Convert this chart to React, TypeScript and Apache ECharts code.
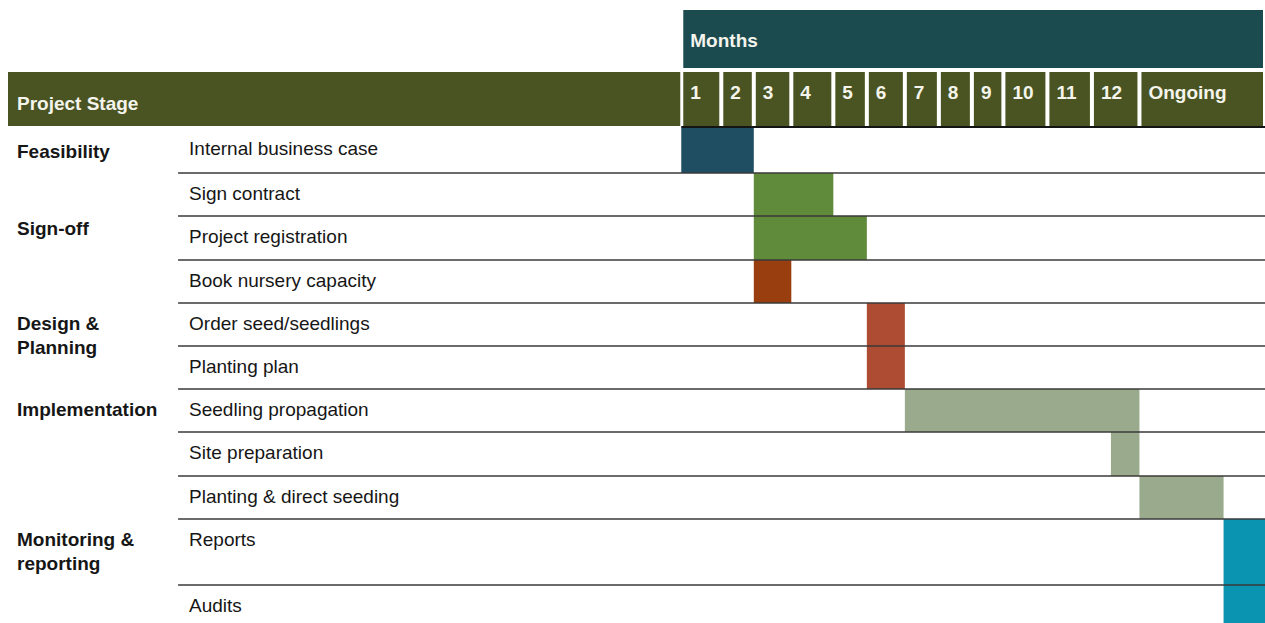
import React, { useEffect, useRef } from "react";
import * as echarts from "echarts";

// ---------- data ----------
const monthLabels = ["1", "2", "3", "4", "5", "6", "7", "8", "9", "10", "11", "12", "Ongoing"];
const stageNames = ["Feasibility", "Sign-off", "Design &\nPlanning", "Implementation", "Monitoring &\nreporting"];
const taskNames = [
  "Internal business case",
  "Sign contract",
  "Project registration",
  "Book nursery capacity",
  "Order seed/seedlings",
  "Planting plan",
  "Seedling propagation",
  "Site preparation",
  "Planting & direct seeding",
  "Reports",
  "Audits",
];
// start / end in month positions (month m spans [m-1, m]; "Ongoing" spans [12, 13])
const taskStart = [0, 2, 2, 2, 5, 5, 6, 11.4, 12, 12.67, 12.67];
const taskEnd = [2, 4, 5, 3, 6, 6, 12, 12, 12.67, 13, 13];

// ---------- styles ----------
const barColors = [
  "#1f4e62",
  "#5f8b3b",
  "#5f8b3b",
  "#993f0f",
  "#ad4b33",
  "#ad4b33",
  "#9aaa8d",
  "#9aaa8d",
  "#9aaa8d",
  "#0b94b2",
  "#0b94b2",
];
const MONTHS_BG = "#1b4b4f";
const OLIVE_BG = "#4a5422";
const HEAD_TEXT = "#f4f4ec";
const TEXT = "#161616";
const LINE = "#3a3a3a";
const FONT = '"Liberation Sans", Arial, sans-serif';

// ---------- layout (axis units = px inside the grid) ----------
const COL_W = [170, 503, 40, 32.5, 37.5, 42, 33.5, 38, 34, 33, 31.5, 44, 44.5, 47.5, 125.5];
const ROW_H = [45, 43, 44, 43, 43, 43, 43, 44, 43, 66, 44];
const MONTHS_BAND = [0, 58];
const HEAD_BAND = [62, 116];
const HEAD_LINE = 117;
const BODY_TOP = 118;
const MONTH_TEXT_Y = 82;
const STAGE_HEAD_TEXT_Y = 93;
const MONTHS_TEXT_Y = 30;
const STAGE_Y = [141, 218, 313, 399, 529];
const TASK_TEXT_DY = 20.5;

const colEdges: number[] = [0];
COL_W.forEach((w) => colEdges.push(colEdges[colEdges.length - 1] + w));
const X_MAX = colEdges[colEdges.length - 1];
const rowEdges: number[] = [BODY_TOP];
ROW_H.forEach((h) => rowEdges.push(rowEdges[rowEdges.length - 1] + h));
const Y_MAX = 613;

function monthX(m: number) {
  const i = Math.min(Math.floor(m), 12);
  const f = m - i;
  return colEdges[2 + i] + f * COL_W[2 + i];
}

function rectFrom(api: any, x0: number, y0: number, x1: number, y1: number) {
  const p0 = api.coord([x0, y0]);
  const p1 = api.coord([x1, y1]);
  return { x: p0[0], y: p0[1], width: p1[0] - p0[0], height: p1[1] - p0[1] };
}

export default function App() {
  const ref = useRef<HTMLDivElement>(null);
  useEffect(() => {
    if (!ref.current) return;
    const chart = echarts.init(ref.current, undefined, { renderer: "svg" });

    const headerSeries = {
      type: "custom",
      silent: true,
      data: [[0, 0]],
      renderItem: (_p: any, api: any) => {
        const mp = api.coord([monthX(0), MONTHS_TEXT_Y]);
        const sp = api.coord([colEdges[0], STAGE_HEAD_TEXT_Y]);
        const l0 = api.coord([monthX(0), HEAD_LINE]);
        const l1 = api.coord([X_MAX, HEAD_LINE]);
        return {
          type: "group",
          children: [
            {
              type: "rect",
              shape: rectFrom(api, monthX(0) + 2, MONTHS_BAND[0], X_MAX - 2, MONTHS_BAND[1]),
              style: { fill: MONTHS_BG },
            },
            {
              type: "rect",
              shape: rectFrom(api, colEdges[0], HEAD_BAND[0], monthX(0) - 1, HEAD_BAND[1]),
              style: { fill: OLIVE_BG },
            },
            {
              type: "line",
              shape: { x1: l0[0], y1: l0[1], x2: l1[0], y2: l1[1] },
              style: { stroke: "#141414", lineWidth: 2 },
            },
            {
              type: "text",
              x: mp[0] + 9,
              y: mp[1],
              style: { text: "Months", fill: HEAD_TEXT, font: `bold 19px ${FONT}`, align: "left", verticalAlign: "middle" },
            },
            {
              type: "text",
              x: sp[0] + 9,
              y: sp[1],
              style: { text: "Project Stage", fill: HEAD_TEXT, font: `bold 19px ${FONT}`, align: "left", verticalAlign: "middle" },
            },
          ],
        };
      },
    };

    const monthSeries = {
      type: "custom",
      silent: true,
      data: monthLabels.map((_, i) => [i, 0]),
      renderItem: (params: any, api: any) => {
        const i = params.dataIndex;
        const x0 = monthX(i) + 2;
        const x1 = monthX(i + 1) - 2;
        const tp = api.coord([x0, MONTH_TEXT_Y]);
        return {
          type: "group",
          children: [
            { type: "rect", shape: rectFrom(api, x0, HEAD_BAND[0], x1, HEAD_BAND[1]), style: { fill: OLIVE_BG } },
            {
              type: "text",
              x: tp[0] + 7,
              y: tp[1],
              style: { text: monthLabels[i], fill: HEAD_TEXT, font: `bold 19px ${FONT}`, align: "left", verticalAlign: "middle" },
            },
          ],
        };
      },
    };

    const barSeries = {
      type: "custom",
      silent: true,
      data: taskNames.map((_, i) => [i, 0]),
      renderItem: (params: any, api: any) => {
        const i = params.dataIndex;
        return {
          type: "rect",
          shape: rectFrom(api, monthX(taskStart[i]), rowEdges[i], monthX(taskEnd[i]), rowEdges[i + 1]),
          style: { fill: barColors[i] },
        };
      },
    };

    const lineSeries = {
      type: "custom",
      silent: true,
      data: taskNames.slice(1).map((_, i) => [i, 0]),
      renderItem: (params: any, api: any) => {
        const y = rowEdges[params.dataIndex + 1];
        const a = api.coord([colEdges[1], y]);
        const b = api.coord([X_MAX, y]);
        return {
          type: "line",
          shape: { x1: a[0], y1: a[1], x2: b[0], y2: b[1] },
          style: { stroke: LINE, lineWidth: 1.6 },
        };
      },
    };

    const taskLabelSeries = {
      type: "custom",
      silent: true,
      data: taskNames.map((_, i) => [i, 0]),
      renderItem: (params: any, api: any) => {
        const i = params.dataIndex;
        const p = api.coord([colEdges[1], rowEdges[i] + TASK_TEXT_DY]);
        return {
          type: "text",
          x: p[0] + 11,
          y: p[1],
          style: { text: taskNames[i], fill: TEXT, font: `19px ${FONT}`, align: "left", verticalAlign: "middle" },
        };
      },
    };

    const stageLabelSeries = {
      type: "custom",
      silent: true,
      data: stageNames.map((_, i) => [i, 0]),
      renderItem: (params: any, api: any) => {
        const i = params.dataIndex;
        const p = api.coord([colEdges[0], STAGE_Y[i] - 12]);
        return {
          type: "text",
          x: p[0] + 9,
          y: p[1],
          style: {
            text: stageNames[i],
            fill: TEXT,
            font: `bold 19px ${FONT}`,
            lineHeight: 24,
            align: "left",
            verticalAlign: "top",
          },
        };
      },
    };

    chart.setOption({
      animation: false,
      backgroundColor: "#ffffff",
      grid: { left: 8, right: 0, top: 10, bottom: 0 },
      xAxis: { type: "value", min: 0, max: X_MAX, show: false },
      yAxis: { type: "value", min: 0, max: Y_MAX, inverse: true, show: false },
      series: [headerSeries, monthSeries, barSeries, lineSeries, taskLabelSeries, stageLabelSeries],
    });
    return () => chart.dispose();
  }, []);
  return (
    <div
      ref={ref}
      style={{ position: "absolute", left: 0, top: 0, width: 1265, height: 623, background: "#fff" }}
    />
  );
}
